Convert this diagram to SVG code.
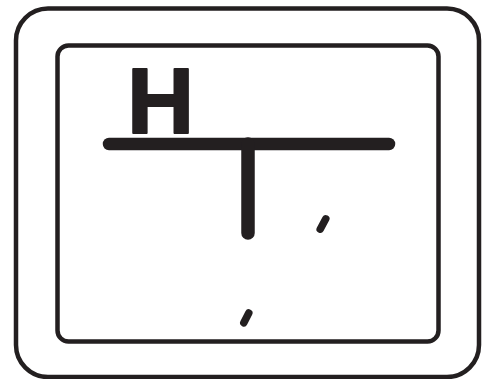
<svg xmlns="http://www.w3.org/2000/svg" width="485" height="379" viewBox="0 0 485 379">
  <style>
    .frame { fill: none; stroke: #231f20; stroke-width: 4.5; }
    .bar { fill: none; stroke: #231f20; stroke-linecap: round; }
    .lbl { font-family: "Liberation Sans", Arial, sans-serif; font-weight: bold; fill: #231f20; stroke: #231f20; stroke-width: 2; stroke-linejoin: round; }
  </style>
  <rect width="485" height="379" fill="#ffffff"/>
  <g id="outer-frame">
    <rect class="frame" x="16" y="8.5" width="463" height="368.5" rx="32" ry="32"/>
  </g>
  <g id="inner-frame">
    <rect class="frame" x="57.5" y="45.5" width="381" height="296" rx="11" ry="11"/>
  </g>
  <g id="label-H">
    <text class="lbl" x="160.5" y="133" font-size="93" text-anchor="middle">H</text>
  </g>
  <g id="connectors">
    <line class="bar" x1="109" y1="144" x2="389" y2="144" stroke-width="12.5"/>
    <line class="bar" x1="248" y1="144" x2="248" y2="233" stroke-width="13.5"/>
    <line class="bar" x1="325.8" y1="218.8" x2="320.2" y2="229.2" stroke-width="7.5"/>
    <line class="bar" x1="248.8" y1="313" x2="243.8" y2="322.8" stroke-width="7.5"/>
  </g>
</svg>
